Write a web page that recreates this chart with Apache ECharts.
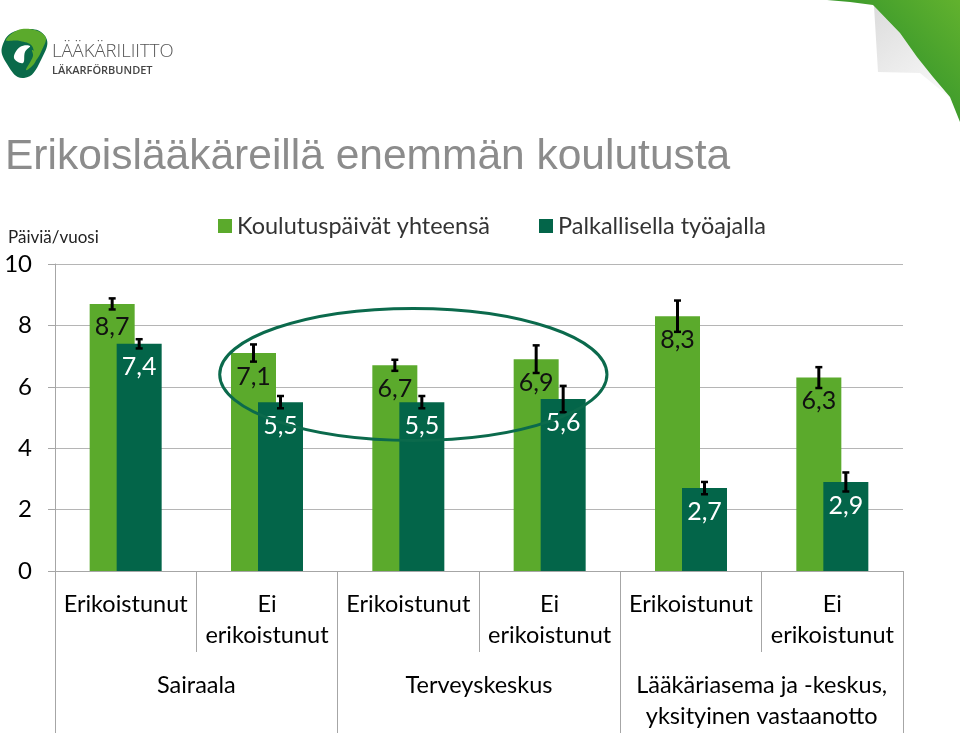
<!DOCTYPE html>
<html><head><meta charset="utf-8">
<script src="https://cdn.jsdelivr.net/npm/echarts@6/dist/echarts.min.js"></script>
<style>html,body{margin:0;padding:0;background:#fff}#c{width:960px;height:733px}</style>
</head><body><div id="c"></div>
<script>
var subCategories = ['Erikoistunut','Ei\nerikoistunut','Erikoistunut','Ei\nerikoistunut','Erikoistunut','Ei\nerikoistunut'];
var groupCategories = ['Sairaala','Terveyskeskus','Lääkäriasema ja -keskus,\nyksityinen vastaanotto'];
var seriesNames = ['Koulutuspäivät yhteensä','Palkallisella työajalla'];
var totalDays = [8.7, 7.1, 6.7, 6.9, 8.3, 6.3];
var paidDays = [7.4, 5.5, 5.5, 5.6, 2.7, 2.9];
var totalErr = [0.18, 0.28, 0.18, 0.45, 0.51, 0.34];
var paidErr = [0.15, 0.20, 0.20, 0.43, 0.20, 0.31];
var yTicks = [0, 2, 4, 6, 8, 10];

var LIGHT = '#5BAA2C', DARK = '#036549', FONT = 'Lato';
var BAR_W = 45, GAP = -0.4;
var OFF = BAR_W * (1 + GAP) / 2;

function fmt(v){ return String(v).replace('.', ','); }
function errData(vals, errs){ return vals.map(function(v,i){ return [i, v - errs[i], v + errs[i]]; }); }
function errRender(off){
  return function(params, api){
    var i = api.value(0);
    var lo = api.coord([i, api.value(1)]);
    var hi = api.coord([i, api.value(2)]);
    var x = lo[0] + off, c = 3.5;
    return {type:'group', children:[
      {type:'line', shape:{x1:x, y1:hi[1], x2:x, y2:lo[1]}, style:{stroke:'#000', lineWidth:3}},
      {type:'line', shape:{x1:x-c, y1:hi[1], x2:x+c, y2:hi[1]}, style:{stroke:'#000', lineWidth:2.5}},
      {type:'line', shape:{x1:x-c, y1:lo[1], x2:x+c, y2:lo[1]}, style:{stroke:'#000', lineWidth:2.5}}
    ]};
  };
}

var chart = echarts.init(document.getElementById('c'), null, {renderer:'canvas'});
var option = {
  animation:false,
  textStyle:{fontFamily:FONT},
  grid:{left:55, right:57, top:264, bottom:162, containLabel:false},
  legend:{
    left:213, top:209, itemWidth:14, itemHeight:14, icon:'rect', itemGap:49,
    textStyle:{fontFamily:FONT, fontSize:23.5, color:'#333'},
    data:seriesNames
  },
  xAxis:[{
    type:'category', data:subCategories, gridIndex:0, position:'bottom',
    axisLine:{lineStyle:{color:'#a6a6a6', width:1}},
    axisTick:{show:true, interval:0, length:81, lineStyle:{color:'#a6a6a6'}},
    axisLabel:{interval:0, fontFamily:FONT, fontSize:23.5, lineHeight:31, color:'#000', margin:18}
  },{
    type:'category', data:groupCategories, gridIndex:0, position:'bottom',
    axisLine:{show:false},
    axisTick:{show:true, interval:0, length:162, lineStyle:{color:'#a6a6a6'}},
    axisLabel:{interval:0, fontFamily:FONT, fontSize:23.5, lineHeight:31, color:'#000', margin:99}
  }],
  yAxis:{
    type:'value', min:0, max:10, interval:2,
    axisLine:{show:true, lineStyle:{color:'#a6a6a6'}},
    axisTick:{show:true, length:7, lineStyle:{color:'#a6a6a6'}},
    splitLine:{lineStyle:{color:'#b5b5b5', width:1}},
    axisLabel:{fontFamily:FONT, fontSize:24, color:'#000', margin:23,
      formatter:function(v){ return yTicks.indexOf(v) >= 0 ? String(v) : ''; }}
  },
  series:[{
    name:seriesNames[0], type:'bar', data:totalDays, barWidth:BAR_W, barGap:(GAP*100)+'%',
    itemStyle:{color:LIGHT},
    label:{show:true, position:'insideTop', distance:11, fontFamily:FONT, fontSize:25, color:'#111',
      formatter:function(p){ return fmt(p.value); }}
  },{
    name:seriesNames[1], type:'bar', data:paidDays, barWidth:BAR_W, barGap:(GAP*100)+'%',
    itemStyle:{color:DARK},
    label:{show:true, position:'insideTop', distance:11, fontFamily:FONT, fontSize:25, color:'#fff',
      formatter:function(p){ return fmt(p.value); }}
  },{
    type:'custom', name:'errTotal', data:errData(totalDays, totalErr), renderItem:errRender(-OFF),
    encode:{x:0, y:[1,2]}, z:5, silent:true
  },{
    type:'custom', name:'errPaid', data:errData(paidDays, paidErr), renderItem:errRender(OFF),
    encode:{x:0, y:[1,2]}, z:5, silent:true
  }]
};
chart.setOption(option);

var pc = chart.convertToPixel({gridIndex:0}, [2, 6.5]);
var p0 = chart.convertToPixel({gridIndex:0}, [0, 0]);
var p1 = chart.convertToPixel({gridIndex:0}, [1, 0]);
var cw = p1[0] - p0[0];
var pTop = chart.convertToPixel({gridIndex:0}, [2, 8.65]);

chart.setOption({graphic:[
  {type:'ellipse', shape:{cx:pc[0]+5, cy:pc[1]+3, rx:cw*1.37, ry:(pc[1]-pTop[1])}, z:100,
   style:{fill:'none', stroke:'#0b6a4c', lineWidth:3}},
  {type:'text', x:5, y:136, z:100, style:{text:'Erikoislääkäreillä enemmän koulutusta', fontFamily:'Liberation Sans', fontSize:42.5, fill:'#8c8c8c'}},
  {type:'text', x:8, y:229, style:{text:'Päiviä/vuosi', fontFamily:'Lato', fontSize:17, fill:'#222'}},
  {type:'polygon', shape:{points:[[3,44],[20,30],[45,36],[41,60],[24,78],[7,64]], smooth:0.5}, style:{fill:'#0a6a4a'}},
  {type:'polygon', shape:{points:[[6,40],[22,29],[45,36],[41,52],[35,60],[32,46],[20,41]], smooth:0.4}, style:{fill:'#5BAA2C'}},
  {type:'polygon', shape:{points:[[14,58],[20,47],[30,46],[25,52],[23,63]], smooth:0.4}, style:{fill:'#ffffff'}},
  {type:'polygon', shape:{points:[[26,70],[33,56],[32,50],[37,55],[34,64]], smooth:0.4}, style:{fill:'#5BAA2C'}},
  {type:'text', x:52, y:42, style:{text:'LÄÄKÄRILIITTO', fontFamily:'Open Sans', fontWeight:300, fontSize:18.5, fill:'#555'}},
  {type:'text', x:52, y:65, style:{text:'LÄKARFÖRBUNDET', fontFamily:'Open Sans', fontWeight:600, fontSize:11, fill:'#444'}},
  {type:'polygon', shape:{points:[[874,6],[878,72],[920,73],[948,96],[958,116],[950,97],[933,77],[917,57],[900,33]]},
   style:{fill:{type:'linear', x:0, y:0, x2:1, y2:1, colorStops:[{offset:0, color:'#dcdcdc'},{offset:1, color:'#ffffff'}]}}},
  {type:'polygon', shape:{points:[[827,0],[960,0],[960,122],[950,97],[933,77],[917,57],[900,33],[873,5],[850,2]]},
   style:{fill:{type:'linear', x:0, y:1, x2:1, y2:0, colorStops:[{offset:0, color:'#1d7a2c'},{offset:0.5, color:'#3c9a2c'},{offset:1, color:'#62b22e'}]}}}
]});
</script></body></html>
